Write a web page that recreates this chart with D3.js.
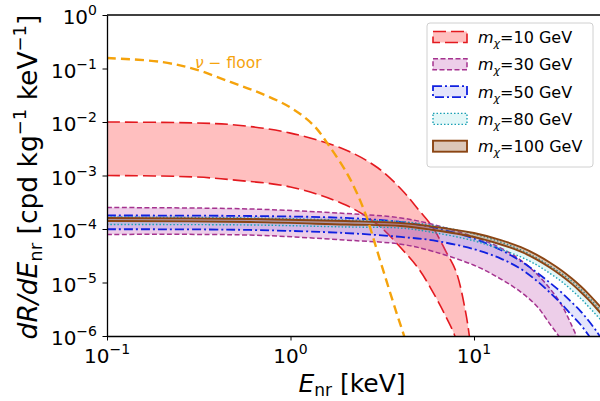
<!DOCTYPE html>
<html>
<meta charset="utf-8">
<title>dR/dE</title>
<style>
body { margin: 0; background: #fff; }
text { font-family: "DejaVu Sans", sans-serif; fill: #000; }
</style>
<body>
<svg id="chart" width="600" height="401"></svg>
<script src="https://cdnjs.cloudflare.com/ajax/libs/d3/7.8.5/d3.min.js"></script>
<script>
// energies (keV) and rates (cpd/kg/keV)
var e10 = [0.1, 0.3, 0.5, 1, 2, 3, 4, 5, 6, 7, 8, 9, 9.5, 10];
var m10Up = [1.0e-2, 9.6e-3, 8.8e-3, 6.2e-3, 3.0e-3, 1.38e-3, 5.6e-4, 2.26e-4, 1.04e-4, 3.9e-5, 1.57e-5, 2.8e-6, 8.4e-7, 2.3e-7];
var m10Lo = [1.0e-3, 9.4e-4, 8.2e-4, 6.1e-4, 2.8e-4, 1.19e-4, 4.4e-5, 1.79e-5, 6.4e-6, 2.36e-6, 8.4e-7, 1e-7, 1e-8, 1e-9];

var e30 = [0.1, 0.6, 2, 4, 6, 10, 14, 18, 22, 26, 30, 34, 38];
var m30Up = [2.52e-4, 2.37e-4, 1.95e-4, 1.61e-4, 1.21e-4, 7.1e-5, 4.4e-5, 2.6e-5, 1.44e-5, 7.6e-6, 3.8e-6, 1.6e-6, 6.8e-7];
var m30Lo = [7.9e-5, 7.7e-5, 6.2e-5, 5.2e-5, 3.8e-5, 2.1e-5, 1.16e-5, 6.6e-6, 3.6e-6, 1.65e-6, 8.4e-7, 4.3e-7, 2.5e-7];

var eHeavy = [0.1, 0.6, 2, 4, 6, 10, 14, 18, 22, 26, 30, 34, 38, 42, 46, 50];
var m50Up = [1.79e-4, 1.75e-4, 1.61e-4, 1.35e-4, 1.07e-4, 6.6e-5, 4.05e-5, 2.5e-5, 1.54e-5, 9.8e-6, 6.5e-6, 4.3e-6, 2.93e-6, 1.95e-6, 1.29e-6, 8.4e-7];
var m50Lo = [9.9e-5, 9.6e-5, 8.4e-5, 7.1e-5, 6.1e-5, 4.2e-5, 2.8e-5, 1.79e-5, 1.07e-5, 6.4e-6, 3.96e-6, 2.47e-6, 1.64e-6, 1.04e-6, 6.5e-7, 4.2e-7];
var m80Up = [1.68e-4, 1.61e-4, 1.47e-4, 1.38e-4, 1.16e-4, 8.1e-5, 5.7e-5, 4.05e-5, 2.87e-5, 2.03e-5, 1.47e-5, 1.07e-5, 7.6e-6, 5.36e-6, 3.83e-6, 2.75e-6];
var m80Lo = [1.21e-4, 1.19e-4, 1.09e-4, 1.04e-4, 8.6e-5, 6.0e-5, 4.14e-5, 3.0e-5, 2.12e-5, 1.47e-5, 1.04e-5, 7.24e-6, 5.09e-6, 3.56e-6, 2.54e-6, 1.87e-6];
var m100Up = [1.61e-4, 1.54e-4, 1.41e-4, 1.29e-4, 1.11e-4, 8.4e-5, 6.2e-5, 4.57e-5, 3.28e-5, 2.34e-5, 1.68e-5, 1.2e-5, 8.6e-6, 6.15e-6, 4.4e-6, 3.2e-6];
var m100Lo = [1.41e-4, 1.35e-4, 1.21e-4, 1.14e-4, 9.57e-5, 7.08e-5, 5.13e-5, 3.77e-5, 2.68e-5, 1.89e-5, 1.34e-5, 9.53e-6, 6.73e-6, 4.79e-6, 3.41e-6, 2.46e-6];

var eNu = [0.1, 0.2, 0.31, 0.47, 0.68, 0.99, 1.33, 1.64, 2.03, 2.30, 2.61, 2.96, 3.36, 3.81, 4.16, 4.6];
var nuFloor = [0.157, 0.132, 0.094, 0.056, 0.035, 0.019, 8.8e-3, 3.4e-3, 1.1e-3, 4.7e-4, 1.6e-4, 4.0e-5, 9.8e-6, 2.5e-6, 1.0e-6, 3e-7];

var massLabels = ["10", "30", "50", "80", "100"];
var xTicks = [0.1, 1, 10];
var yTicks = [1e-6, 1e-5, 1e-4, 1e-3, 1e-2, 1e-1, 1];

var bands = [
  {e: e10,    up: m10Up,  lo: m10Lo,  stroke: "#e3191f", fill: "#ff0000", op: 0.25, dash: "13,5",    lw: 1.6},
  {e: e30,    up: m30Up,  lo: m30Lo,  stroke: "#a5338f", fill: "#c050b0", op: 0.28, dash: "5,2.5",   lw: 1.5},
  {e: eHeavy, up: m50Up,  lo: m50Lo,  stroke: "#1020e0", fill: "#3030e0", op: 0.13, dash: "9,3,2,3", lw: 1.8},
  {e: eHeavy, up: m80Up,  lo: m80Lo,  stroke: "#1aa0b4", fill: "#40c8d0", op: 0.15, dash: "1.5,2",   lw: 1.4},
  {e: eHeavy, up: m100Up, lo: m100Lo, stroke: "#8b4513", fill: "#8b4513", op: 0.3,  dash: null,      lw: 1.9}
];

var svg = d3.select("#chart");
var x = d3.scaleLog().domain([0.1, 50]).range([107, 602.3]);
var y = d3.scaleLog().domain([1e-6, 1]).range([336, 15]);
var curve = d3.curveCatmullRom.alpha(0.5);

svg.append("clipPath").attr("id", "plotclip")
  .append("rect").attr("x", 107).attr("y", 15).attr("width", 500).attr("height", 321);

var plot = svg.append("g").attr("clip-path", "url(#plotclip)");

bands.forEach(function(b) {
  var pts = b.e.map(function(d, i) { return {e: d, up: b.up[i], lo: b.lo[i]}; });
  var area = d3.area().curve(curve)
    .x(function(d) { return x(d.e); })
    .y0(function(d) { return y(d.lo); })
    .y1(function(d) { return y(d.up); });
  plot.append("path").datum(pts).attr("d", area)
    .attr("fill", b.fill).attr("fill-opacity", b.op).attr("stroke", "none");
  ["up", "lo"].forEach(function(k) {
    var line = d3.line().curve(curve)
      .x(function(d) { return x(d.e); })
      .y(function(d) { return y(d[k]); });
    plot.append("path").datum(pts).attr("d", line)
      .attr("fill", "none").attr("stroke", b.stroke).attr("stroke-width", b.lw)
      .attr("stroke-dasharray", b.dash);
  });
});

// neutrino floor
var nuPts = eNu.map(function(d, i) { return {e: d, r: nuFloor[i]}; });
plot.append("path").datum(nuPts)
  .attr("d", d3.line().curve(curve).x(function(d) { return x(d.e); }).y(function(d) { return y(d.r); }))
  .attr("fill", "none").attr("stroke", "#f5a30c").attr("stroke-width", 2.4).attr("stroke-dasharray", "9,5");

var nuLab = svg.append("text").attr("x", 195).attr("y", 68).style("font-size", "15.5px").style("fill", "#f5a30c");
nuLab.append("tspan").style("font-style", "italic").style("fill", "#f5a30c").text("\u03bd");
nuLab.append("tspan").style("fill", "#f5a30c").text(" \u2212 floor");

// minor ticks
function minors(lo, hi) {
  var out = [];
  for (var k = lo; k < hi; k++) for (var m = 2; m <= 9; m++) out.push(m * Math.pow(10, k));
  return out;
}
var xMinor = minors(-1, 2).filter(function(v) { return v <= 50; });
var yMinor = minors(-6, 0);

var gx = svg.append("g").attr("transform", "translate(0,336)");
gx.call(d3.axisBottom(x).tickValues(xMinor).tickSize(2.5).tickSizeOuter(0).tickFormat(""));
gx.call(d3.axisBottom(x).tickValues(xTicks).tickSize(4.5).tickSizeOuter(0).tickFormat(""));
var gy = svg.append("g").attr("transform", "translate(107,0)");
gy.call(d3.axisLeft(y).tickValues(yMinor).tickSize(2.5).tickSizeOuter(0).tickFormat(""));
gy.call(d3.axisLeft(y).tickValues(yTicks).tickSize(4.5).tickSizeOuter(0).tickFormat(""));
svg.selectAll(".domain").attr("stroke", "#000").attr("stroke-width", 1.3);
svg.selectAll(".tick line").attr("stroke", "#000").attr("stroke-width", 1);

svg.append("line").attr("x1", 107).attr("x2", 602).attr("y1", 15).attr("y2", 15)
  .attr("stroke", "#000").attr("stroke-width", 1.3);

function powLabel(sel, v) {
  var p = Math.round(Math.log10(v));
  sel.append("tspan").text("10");
  sel.append("tspan").attr("dy", -9).style("font-size", "14px").text(p < 0 ? "\u2212" + (-p) : "" + p);
}

xTicks.forEach(function(v) {
  var t = svg.append("text").attr("x", x(v)).attr("y", 363).attr("text-anchor", "middle").style("font-size", "20px");
  powLabel(t, v);
});
yTicks.forEach(function(v) {
  var t = svg.append("text").attr("x", 97).attr("y", y(v) + 9).attr("text-anchor", "end").style("font-size", "20px");
  powLabel(t, v);
});

// axis labels
var xl = svg.append("text").attr("x", 352).attr("y", 392).attr("text-anchor", "middle").style("font-size", "25px");
xl.append("tspan").style("font-style", "italic").text("E");
xl.append("tspan").attr("dy", 4).style("font-size", "17px").text("nr");
xl.append("tspan").attr("dy", -4).text(" [keV]");

var yl = svg.append("text").attr("transform", "translate(37,177) rotate(-90)").attr("text-anchor", "middle").style("font-size", "26.5px");
yl.append("tspan").style("font-style", "italic").text("dR/dE");
yl.append("tspan").attr("dy", 5).style("font-size", "18px").text("nr");
yl.append("tspan").attr("dy", -5).text("  [cpd kg");
yl.append("tspan").attr("dy", -11).style("font-size", "18px").text("\u22121");
yl.append("tspan").attr("dy", 11).text(" keV");
yl.append("tspan").attr("dy", -11).style("font-size", "18px").text("\u22121");
yl.append("tspan").attr("dy", 11).text("]");

// legend
var lg = svg.append("g");
lg.append("rect").attr("x", 427).attr("y", 23).attr("width", 166).attr("height", 144).attr("rx", 3)
  .attr("fill", "#fff").attr("fill-opacity", 0.8).attr("stroke", "#d0d0d0").attr("stroke-width", 1);
bands.forEach(function(b, i) {
  var cy = 37 + i * 27.3;
  lg.append("rect").attr("x", 433).attr("y", cy - 5.5).attr("width", 34).attr("height", 11)
    .attr("fill", b.fill).attr("fill-opacity", b.op).attr("stroke", b.stroke).attr("stroke-width", b.lw)
    .attr("stroke-dasharray", b.dash);
  var t = lg.append("text").attr("x", 478).attr("y", cy + 6).style("font-size", "16px");
  t.append("tspan").style("font-style", "italic").text("m");
  t.append("tspan").attr("dy", 4).style("font-size", "11px").style("font-style", "italic").text("\u03c7");
  t.append("tspan").attr("dy", -4).text("=" + massLabels[i] + " GeV");
});
</script>
</body>
</html>
